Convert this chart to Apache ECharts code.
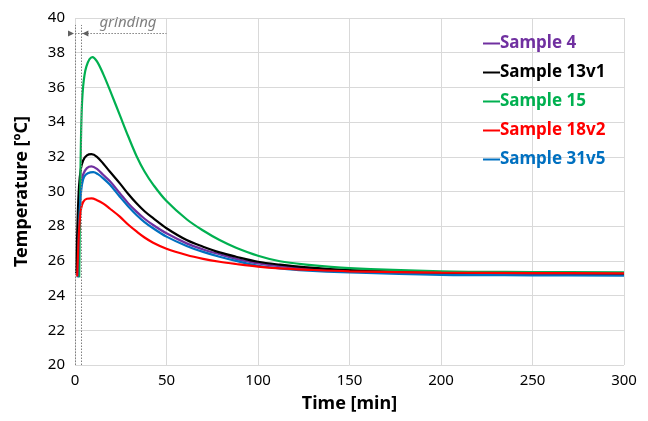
<!DOCTYPE html>
<html>
<head>
<meta charset="utf-8">
<script src="https://cdn.jsdelivr.net/npm/echarts@6/dist/echarts.min.js"></script>
<style>
  html, body { margin: 0; padding: 0; background: #fff; }
  #chart { width: 648px; height: 421px; }
</style>
</head>
<body>
<div id="chart"></div>
<script>
// series names and colours (same order as the legend)
const seriesNames = ['Sample 4', 'Sample 13v1', 'Sample 15', 'Sample 18v2', 'Sample 31v5'];
const seriesColors = ['#7030a0', '#000000', '#00b050', '#ff0000', '#0070c0'];

// [time min, temperature °C]
const sample4 = [[1.0,25.2],[1.6,27.5],[2.3,29.3],[3.2,30.4],[4.5,31.0],[6.5,31.35],[9,31.45],[12,31.3],[15.5,30.95],[19,30.6],[24.5,29.9],[29,29.33],[33.6,28.84],[38,28.43],[42.7,28.07],[50,27.59],[61,27.01],[70,26.66],[79,26.38],[88,26.12],[100,25.86],[112,25.7],[125,25.57],[150,25.4],[200,25.25],[250,25.22],[300,25.2]];
const sample13v1 = [[0.7,25.3],[1.4,28.3],[2.2,30.3],[3.2,31.3],[4.5,31.8],[6.5,32.08],[9,32.15],[12,32.0],[15.5,31.6],[19,31.15],[24.5,30.47],[29,29.87],[33.6,29.32],[38,28.86],[42.7,28.46],[50,27.88],[61,27.2],[70,26.82],[79,26.49],[88,26.24],[100,25.95],[112,25.78],[125,25.64],[150,25.47],[200,25.32],[250,25.28],[300,25.25]];
const sample15 = [[2.3,25.05],[2.8,29.5],[3.5,34.1],[4.4,36.0],[6.2,37.2],[9.5,37.75],[12,37.5],[15.5,36.75],[20,35.6],[24.5,34.4],[29,33.2],[33.6,32.05],[38,31.15],[42.7,30.4],[50,29.45],[61,28.4],[70,27.75],[79,27.2],[88,26.76],[100,26.3],[112,25.98],[125,25.8],[150,25.58],[200,25.4],[250,25.36],[300,25.34]];
const sample18v2 = [[1.2,25.1],[1.8,26.8],[2.5,28.2],[3.3,29.0],[4.5,29.4],[6.5,29.58],[9,29.6],[12,29.5],[15.5,29.3],[19,29.02],[24.5,28.55],[29,28.1],[33.6,27.7],[38,27.35],[42.7,27.05],[50,26.7],[61,26.34],[70,26.12],[79,25.95],[88,25.82],[100,25.67],[112,25.57],[125,25.5],[150,25.4],[200,25.32],[250,25.3],[300,25.28]];
const sample31v5 = [[1.5,25.05],[2.1,27.5],[2.8,29.3],[3.8,30.4],[5,30.85],[7,31.05],[10,31.12],[12.5,31.0],[15.5,30.75],[19,30.4],[24.5,29.7],[29,29.15],[33.6,28.65],[38,28.24],[42.7,27.88],[50,27.4],[61,26.86],[70,26.52],[79,26.24],[88,26.0],[100,25.72],[112,25.57],[125,25.45],[150,25.33],[200,25.2],[250,25.17],[300,25.15]];
const seriesData = [sample4, sample13v1, sample15, sample18v2, sample31v5];

// grinding phase annotation (minutes / °C)
const grindStart = 0;
const grindEnd = 3.5;
const grindLabelEnd = 50;
const grindLevel = 39.1;

const FONT = 'Noto Sans';
const chart = echarts.init(document.getElementById('chart'));

const lines = seriesNames.map((name, i) => ({
    name,
    type: 'line',
    data: seriesData[i],
    smooth: 0.35,
    showSymbol: false,
    lineStyle: { color: seriesColors[i], width: 2.2 },
    itemStyle: { color: seriesColors[i] },
    z: 3 + (i === 3 ? 1 : 0)
}));

//grinding marks: two dotted verticals, dotted span line and arrow heads
const dotted = { color: '#808080', type: [1.5, 1.5], width: 1 };
lines.push({
    name: 'grinding',
    type: 'line',
    data: [],
    silent: true,
    markLine: {
        silent: true,
        symbol: 'none',
        animation: false,
        label: { show: false },
        lineStyle: dotted,
        data: [
            [{ coord: [grindStart, 20] }, { coord: [grindStart, 39.6] }],
            [{ coord: [grindEnd, 20] }, { coord: [grindEnd, 39.6] }],
            [{ coord: [grindStart, grindLevel] }, { coord: [grindEnd, grindLevel] }],
            [
                { coord: [grindEnd, grindLevel] },
                {
                    coord: [grindLabelEnd, grindLevel],
                    label: {
                        show: true,
                        formatter: 'grinding',
                        position: 'insideMiddleTop',
                        distance: 3,
                        offset: [4, 0],
                        color: '#7f7f7f',
                        fontStyle: 'italic',
                        fontFamily: FONT,
                        fontSize: 15
                    }
                }
            ]
        ]
    },
    markPoint: {
        silent: true,
        animation: false,
        symbol: 'triangle',
        symbolSize: [6, 6],
        itemStyle: { color: '#606060' },
        label: { show: false },
        data: [
            { coord: [grindStart, grindLevel], symbolRotate: -90, symbolOffset: [-4, 0] },
            { coord: [grindEnd, grindLevel], symbolRotate: 90, symbolOffset: [4, 0] }
        ]
    }
});

chart.setOption({
    backgroundColor: '#fff',
    animation: false,
    textStyle: { fontFamily: FONT },
    grid: { left: 75, right: 24, top: 18, bottom: 56 },
    legend: {
        orient: 'vertical',
        left: 478,
        top: 30,
        itemGap: 12,
        itemWidth: 17,
        itemHeight: 2,
        icon: 'rect',
        selectedMode: false,
        data: seriesNames.map((name, i) => ({
            name,
            itemStyle: { color: seriesColors[i] },
            textStyle: { color: seriesColors[i], fontWeight: 'bold', fontSize: 17, fontFamily: FONT, padding: [0, 0, 0, -5] }
        }))
    },
    xAxis: {
        type: 'value',
        min: 0,
        max: 300,
        interval: 50,
        name: 'Time [min]',
        nameLocation: 'middle',
        nameGap: 30,
        nameTextStyle: { fontWeight: 'bold', fontSize: 18, color: '#000' },
        axisLine: { show: false },
        axisTick: { show: false },
        axisLabel: { fontSize: 15, color: '#000', margin: 8 },
        splitLine: { show: true, lineStyle: { color: '#d9d9d9', width: 1 } }
    },
    yAxis: {
        type: 'value',
        min: 20,
        max: 40,
        interval: 2,
        name: 'Temperature [ºC]',
        nameLocation: 'middle',
        nameRotate: 90,
        nameGap: 44,
        nameTextStyle: { fontWeight: 'bold', fontSize: 18, color: '#000' },
        axisLine: { show: false },
        axisTick: { show: false },
        axisLabel: { fontSize: 15, color: '#000', margin: 10 },
        splitLine: { show: true, lineStyle: { color: '#d9d9d9', width: 1 } }
    },
    series: lines
});
</script>
</body>
</html>
